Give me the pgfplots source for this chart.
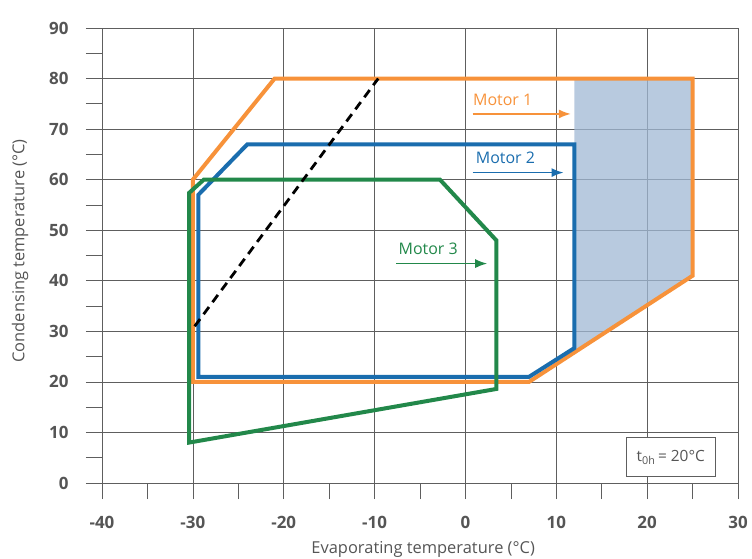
\documentclass[border=0pt]{standalone}
\usepackage{fontspec}
\setmainfont{Open Sans}
\usepackage{pgfplots}
\pgfplotsset{compat=1.18}
\usetikzlibrary{arrows.meta}
\definecolor{gridc}{HTML}{5E5E5E}
\definecolor{txt}{HTML}{555555}
\definecolor{mone}{HTML}{F7923A}
\definecolor{mtwo}{HTML}{1A6DAE}
\definecolor{mthree}{HTML}{22884A}
\definecolor{shade}{HTML}{A0B8D4}
\begin{document}
\begin{tikzpicture}
\path[use as bounding box] (-102bp,-76bp) rectangle (650bp,483bp);
\begin{axis}[
  scale only axis, width=636bp, height=455bp,
  xmin=-40, xmax=30, ymin=0, ymax=90,
  xtick={-40,-30,...,30}, ytick={0,10,...,90},
  minor xtick={-35,-25,...,25}, minor ytick={5,15,...,85},
  xtick pos=left, ytick pos=left,
  tick align=outside,
  major tick length=16bp, minor tick length=16bp,
  every tick/.style={gridc, line width=0.7bp},
  grid=major, major grid style={gridc, line width=0.7bp},
  axis line style={gridc, line width=0.7bp},
  /pgf/number format/assume math mode=true,
  ticklabel style={font=\fontsize{17}{19}\selectfont\bfseries, text=txt},
  xticklabel style={yshift=-14bp},
  yticklabel style={xshift=-14bp},
  xlabel={Evaporating temperature (°C)},
  ylabel={Condensing temperature (°C)},
  label style={font=\fontsize{16.5}{19}\selectfont, text=txt},
  xlabel style={at={(rel axis cs:0.505,0)}, anchor=center, yshift=-66bp},
  ylabel style={at={(rel axis cs:0,0.51)}, anchor=center, yshift=82bp},
  line join=miter,
]
% shaded region
\addplot[draw=none, fill=shade, fill opacity=0.75] coordinates {(12,25.8) (12,80) (25,80) (25,41) (12,25.8)};
% Motor 1
\addplot[mone, line width=4bp] coordinates {(-30,60) (-21,80) (25,80) (25,41) (7,20) (-30,20) (-30,60)} -- cycle;
% Motor 2
\addplot[mtwo, line width=4bp] coordinates {(-29.4,57) (-24,67) (12,67) (12,26.7) (7,21) (-29.4,21) (-29.4,57)} -- cycle;
% Motor 3
\addplot[mthree, line width=4bp] coordinates {(-30.4,8) (-30.4,57.4) (-28.8,60) (-2.8,60) (3.4,48) (3.4,18.6) (-30.4,8)} -- cycle;
% dashed
\addplot[black, line width=2.8bp, dash pattern=on 9bp off 6bp] coordinates {(-29.8,31) (-9.6,80)};
% arrows
\addplot[mone, line width=1.5bp, -{Latex[length=12bp,width=9bp]}] coordinates {(0.8,73) (11.6,73)};
\addplot[mtwo, line width=1.5bp, -{Latex[length=12bp,width=9bp]}] coordinates {(0.8,61.4) (10.8,61.4)};
\addplot[mthree, line width=1.5bp, -{Latex[length=12bp,width=9bp]}] coordinates {(-7.6,43.4) (2.4,43.4)};
\node[text=mone, font=\fontsize{16}{18}\selectfont] at (axis cs:4.1,75.8) {Motor 1};
\node[text=mtwo, font=\fontsize{16}{18}\selectfont] at (axis cs:4.4,64.4) {Motor 2};
\node[text=mthree, font=\fontsize{16}{18}\selectfont] at (axis cs:-4.1,46.3) {Motor 3};
\node[draw=gridc, line width=1bp, fill=white, minimum width=89bp, minimum height=39bp, text=txt, font=\fontsize{15.5}{17}\selectfont] at (axis cs:22.6,5.1) {t\textsubscript{0h}\,= 20°C};
\end{axis}
\end{tikzpicture}
\end{document}
